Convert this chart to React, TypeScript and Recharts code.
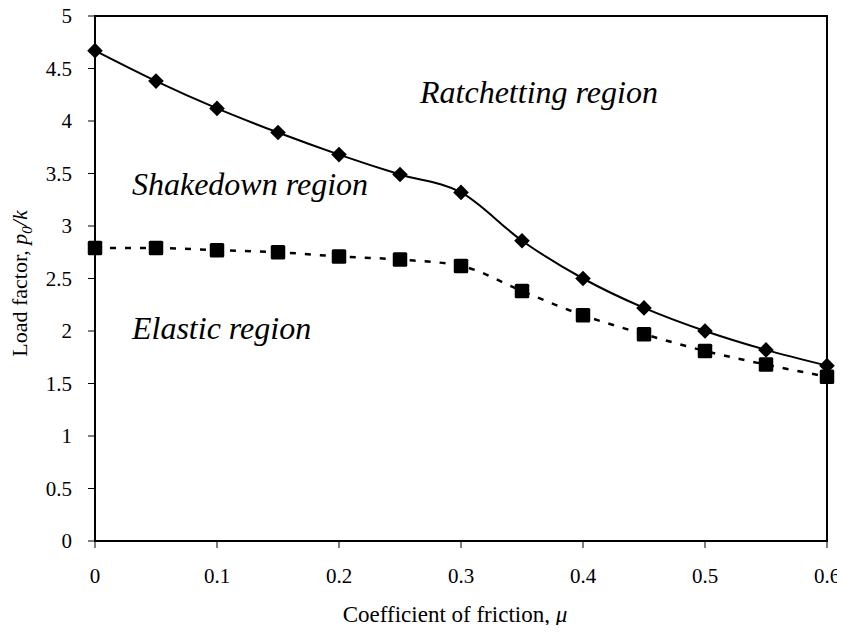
import React from "react";
import {
  LineChart,
  Line,
  XAxis,
  YAxis,
  ReferenceArea,
  ReferenceDot,
} from "recharts";

const muValues = [0, 0.05, 0.1, 0.15, 0.2, 0.25, 0.3, 0.35, 0.4, 0.45, 0.5, 0.55, 0.6];
const shakedownLimit = [4.67, 4.38, 4.12, 3.89, 3.68, 3.49, 3.32, 2.86, 2.5, 2.22, 2.0, 1.82, 1.67];
const elasticLimit = [2.79, 2.79, 2.77, 2.75, 2.71, 2.68, 2.62, 2.38, 2.15, 1.97, 1.81, 1.68, 1.565];
const xTicks = [0, 0.1, 0.2, 0.3, 0.4, 0.5, 0.6];
const yTicks = [0, 0.5, 1, 1.5, 2, 2.5, 3, 3.5, 4, 4.5, 5];
const regionLabels = ["Ratchetting region", "Shakedown region", "Elastic region"];
const regionAnchorMu = [0.2664, 0.0303, 0.0303];
const regionAnchorLoad = [4.171, 3.295, 1.924];

const data = muValues.map((mu, i) => ({
  mu,
  shakedown: shakedownLimit[i],
  elastic: elasticLimit[i],
}));

const FONT = "'Liberation Serif', 'Times New Roman', serif";

const Diamond = (props: any) => {
  const { cx, cy } = props;
  if (cx == null || cy == null) return null;
  const h = 7.8;
  return (
    <polygon
      points={`${cx},${cy - h} ${cx + h},${cy} ${cx},${cy + h} ${cx - h},${cy}`}
      fill="#000"
      stroke="none"
    />
  );
};

const Square = (props: any) => {
  const { cx, cy } = props;
  if (cx == null || cy == null) return null;
  const s = 14.5;
  return <rect x={cx - s / 2} y={cy - s / 2} width={s} height={s} rx={1.5} fill="#000" />;
};

const XTitle = (props: any) => {
  const vb = props.viewBox || {};
  const cx = vb.x + vb.width / 2 - 6;
  const y = vb.y + 81;
  return (
    <text x={cx} y={y} textAnchor="middle" fontFamily={FONT} fontSize={23} fill="#000">
      Coefficient of friction, <tspan fontStyle="italic">μ</tspan>
    </text>
  );
};

const YTitle = (props: any) => {
  const vb = props.viewBox || {};
  const x = 19;
  const y = vb.y + vb.height / 2 + 5;
  return (
    <text
      x={x}
      y={y}
      transform={`rotate(-90, ${x}, ${y})`}
      textAnchor="middle"
      fontFamily={FONT}
      fontSize={22}
      fill="#000"
    >
      Load factor, <tspan fontStyle="italic">p</tspan>
      <tspan fontStyle="italic" fontSize={15} dy={5}>0</tspan>
      <tspan fontStyle="italic" dy={-5}>/k</tspan>
    </text>
  );
};

const regionShape = (label: string) => (props: any) => {
  const { cx, cy } = props;
  return (
    <text x={cx} y={cy} fontFamily={FONT} fontStyle="italic" fontSize={32} fill="#000">
      {label}
    </text>
  );
};

export default function App() {
  return (
    <div style={{ width: 837, height: 617, overflow: "visible" }}>
      <LineChart
        width={837}
        height={625}
        data={data}
        margin={{ top: 8, right: 18, bottom: 32, left: 7 }}
      >
        <XAxis
          type="number"
          dataKey="mu"
          domain={[0, 0.6]}
          ticks={xTicks}
          interval={0}
          height={60}
          tickSize={7}
          tickMargin={20}
          axisLine={{ stroke: "#000", strokeWidth: 2 }}
          tickLine={{ stroke: "#000", strokeWidth: 1 }}
          tick={{ fontFamily: FONT, fontSize: 21, fill: "#000" }}
          label={<XTitle />}
        />
        <YAxis
          type="number"
          domain={[0, 5]}
          ticks={yTicks}
          interval={0}
          width={80}
          tickSize={7}
          tickMargin={16}
          axisLine={{ stroke: "#000", strokeWidth: 2 }}
          tickLine={{ stroke: "#000", strokeWidth: 1 }}
          tick={{ fontFamily: FONT, fontSize: 21, fill: "#000" }}
          label={<YTitle />}
        />
        <ReferenceArea
          x1={0}
          x2={0.6}
          y1={0}
          y2={5}
          fill="none"
          fillOpacity={0}
          stroke="#000"
          strokeWidth={2}
        />
        <Line
          type="monotone"
          dataKey="elastic"
          stroke="#000"
          strokeWidth={2.5}
          strokeDasharray="6 9"
          dot={<Square />}
          activeDot={false}
          isAnimationActive={false}
        />
        <Line
          type="monotone"
          dataKey="shakedown"
          stroke="#000"
          strokeWidth={2}
          dot={<Diamond />}
          activeDot={false}
          isAnimationActive={false}
        />
        {regionLabels.map((label, i) => (
          <ReferenceDot
            key={label}
            x={regionAnchorMu[i]}
            y={regionAnchorLoad[i]}
            r={0}
            shape={regionShape(label)}
          />
        ))}
      </LineChart>
    </div>
  );
}
